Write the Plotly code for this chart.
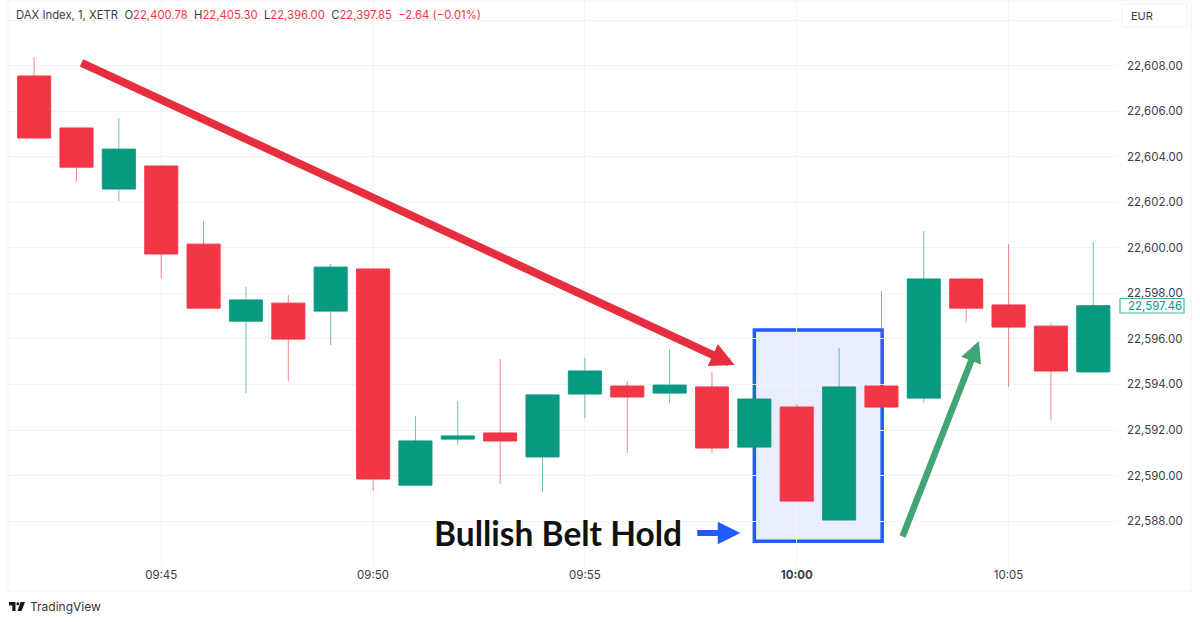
import numpy as np
import plotly.graph_objects as go

times = [f"2025-03-10 {h:02d}:{m:02d}:00" for h, m in
         [(9, k) for k in range(42, 60)] + [(10, k) for k in range(0, 8)]]
opens = [22607.54, 22605.26, 22602.58, 22603.59, 22600.16, 22596.78, 22597.57, 22597.22, 22599.07,
         22589.58, 22591.60, 22591.87, 22590.82, 22593.58, 22593.93, 22593.62, 22593.89, 22591.25,
         22593.01, 22588.05, 22593.93, 22593.40, 22598.63, 22597.49, 22596.56, 22594.55]
closes = [22604.82, 22603.54, 22604.33, 22599.73, 22597.35, 22597.71, 22595.99, 22599.15, 22589.85,
          22591.52, 22591.74, 22591.52, 22593.54, 22594.59, 22593.45, 22593.97, 22591.21, 22593.36,
          22588.88, 22593.89, 22593.01, 22598.63, 22597.35, 22596.52, 22594.59, 22597.46]
highs = [22608.37, 22605.26, 22605.70, 22603.59, 22601.17, 22598.28, 22597.93, 22599.29, 22599.07,
         22592.61, 22593.27, 22595.12, 22593.54, 22595.16, 22594.15, 22595.55, 22594.55, 22594.46,
         22593.14, 22595.60, 22598.10, 22600.73, 22598.67, 22600.16, 22596.70, 22600.25]
lows = [22604.82, 22602.89, 22602.05, 22598.67, 22597.35, 22593.62, 22594.15, 22595.73, 22589.32,
        22589.58, 22591.34, 22589.63, 22589.28, 22592.53, 22590.99, 22593.18, 22590.99, 22590.95,
        22588.88, 22588.05, 22593.01, 22593.18, 22596.74, 22593.89, 22592.44, 22594.55]

price_ticks = [22588, 22590, 22592, 22594, 22596, 22598, 22600, 22602, 22604, 22606, 22608, 22610]
price_labels = [f"{v:,.2f}" for v in price_ticks[:-1]] + [""]
time_ticks = ["2025-03-10 09:45:00", "2025-03-10 09:50:00", "2025-03-10 09:55:00",
              "2025-03-10 10:00:00", "2025-03-10 10:05:00"]
time_labels = ["09:45", "09:50", "09:55", "<b>10:00</b>", "10:05"]

RED, GREEN = "#F23645", "#089981"
PL, PR, PT, PB = 8, 1118, 2, 566
W, H = 1200, 622


def xp(px):
    return (px - PL) / (PR - PL)


def yp(py):
    return (PB - py) / (PB - PT)


fig = go.Figure()
fig.add_trace(go.Candlestick(
    x=times, open=opens, high=highs, low=lows, close=closes, whiskerwidth=0,
    increasing=dict(line=dict(color="rgba(8,153,129,0.6)", width=1), fillcolor="rgba(0,0,0,0)"),
    decreasing=dict(line=dict(color="rgba(242,54,69,0.6)", width=1), fillcolor="rgba(0,0,0,0)"),
    hoverinfo="skip", showlegend=False))
body_top = np.maximum(opens, closes)
body_bot = np.minimum(opens, closes)
fig.add_trace(go.Candlestick(
    x=times, open=opens, high=body_top, low=body_bot, close=closes, whiskerwidth=0,
    increasing=dict(line=dict(color=GREEN, width=0.6), fillcolor=GREEN),
    decreasing=dict(line=dict(color=RED, width=0.6), fillcolor=RED),
    showlegend=False))

shapes = [
    dict(type="rect", layer="below", xref="x", yref="y",
         x0="2025-03-10 09:59:00", x1="2025-03-10 10:02:01", y0=22587.12, y1=22596.39,
         fillcolor="rgba(41,98,255,0.11)", line=dict(color="#1F5BFF", width=3.5)),
    dict(type="rect", xref="paper", yref="paper", x0=xp(8), x1=xp(1191), y0=yp(591), y1=yp(1),
         line=dict(color="#F2F2F4", width=1), layer="below"),
    dict(type="rect", xref="paper", yref="paper", x0=xp(1122), x1=xp(1187), y0=yp(27), y1=yp(4),
         fillcolor="white", line=dict(color="#F0F0F3", width=1)),
    dict(type="rect", xref="paper", yref="paper", x0=xp(1120), x1=xp(1184), y0=yp(313), y1=yp(298.5),
         fillcolor="white", line=dict(color="#4DB5A3", width=1.2)),
    # TradingView logo
    dict(type="path", xref="paper", yref="paper", fillcolor="#131722", line=dict(width=0),
         path=(f"M {xp(9)} {yp(602)} L {xp(15.5)} {yp(602)} L {xp(15.5)} {yp(611)} L {xp(12.3)} {yp(611)} "
               f"L {xp(12.3)} {yp(605.5)} L {xp(9)} {yp(605.5)} Z "
               f"M {xp(20.5)} {yp(602)} L {xp(25)} {yp(602)} L {xp(21.5)} {yp(611)} L {xp(17.5)} {yp(611)} Z")),
    dict(type="circle", xref="paper", yref="paper", fillcolor="#131722", line=dict(width=0),
         x0=xp(16.3), x1=xp(19.3), y0=yp(605.2), y1=yp(602.2)),
]


def arrow(x, y, ax, ay, color, width, size):
    return dict(x=x, y=y, ax=ax, ay=ay, xref="x", yref="y", axref="x", ayref="y", text="",
                showarrow=True, arrowhead=2, arrowsize=size, arrowwidth=width, arrowcolor=color,
                standoff=0, startstandoff=0)


def label(px, py, text, size=11.5, color="#3A3D45", anchor="left", family="Inter"):
    return dict(x=xp(px), y=yp(py), xref="paper", yref="paper", text=text, showarrow=False,
                xanchor=anchor, yanchor="middle", align="left", font=dict(family=family, size=size, color=color))


def red(s):
    return f'<span style="color:{RED}">{s}</span>'


header = ("DAX Index, 1, XETR&nbsp;&nbsp;O" + red("22,400.78") + "&nbsp;&nbsp;H" + red("22,405.30")
          + "&nbsp;&nbsp;L" + red("22,396.00") + "&nbsp;&nbsp;C" + red("22,397.85")
          + "&nbsp;&nbsp;" + red("−2.64 (−0.01%)"))

annotations = [
    arrow("2025-03-10 09:58:32", 22594.85, "2025-03-10 09:43:05", 22608.15, "#E62E3E", 8, 0.6),
    arrow("2025-03-10 10:04:18", 22595.91, "2025-03-10 10:02:29", 22587.26, "#41A574", 6.5, 0.65),
    arrow("2025-03-10 09:58:40", 22587.48, "2025-03-10 09:57:37", 22587.48, "#1F5BFF", 6, 0.75),
    label(557.5, 533, "<b>Bullish Belt Hold</b>", size=33.5, color="#111111", anchor="center", family="Lato"),
    label(14, 14.5, header, size=11.3),
    label(1129, 16, "EUR", size=11),
    label(1126, 305.5, "22,597.46", size=11.5, color="#089981"),
    label(28, 606.5, "TradingView", size=12, color="#333640"),
]

fig.update_layout(
    width=W, height=H, margin=dict(l=PL, r=W - PR, t=PT, b=H - PB, autoexpand=False),
    paper_bgcolor="white", plot_bgcolor="white", showlegend=False, boxgap=0.22, boxgroupgap=0,
    shapes=shapes, annotations=annotations,
    xaxis=dict(type="date", range=["2025-03-10 09:41:23", "2025-03-10 10:07:35"],
               rangeslider=dict(visible=False), tickvals=time_ticks, ticktext=time_labels,
               showgrid=True, gridcolor="#F3F3F5", gridwidth=1, zeroline=False, showline=False,
               ticks="", tickfont=dict(family="Inter", size=11.5, color="#3A3D45")),
    yaxis=dict(range=[22586.03, 22610.79], side="right", tickvals=price_ticks, ticktext=price_labels,
               showgrid=True, gridcolor="#F3F3F5", gridwidth=1, zeroline=False, showline=False,
               ticks="", ticklabelstandoff=8, tickfont=dict(family="Inter", size=11.5, color="#3A3D45")),
)

fig.write_html("out.html", post_script="document.body.style.margin='0';",
               config=dict(displayModeBar=False))
